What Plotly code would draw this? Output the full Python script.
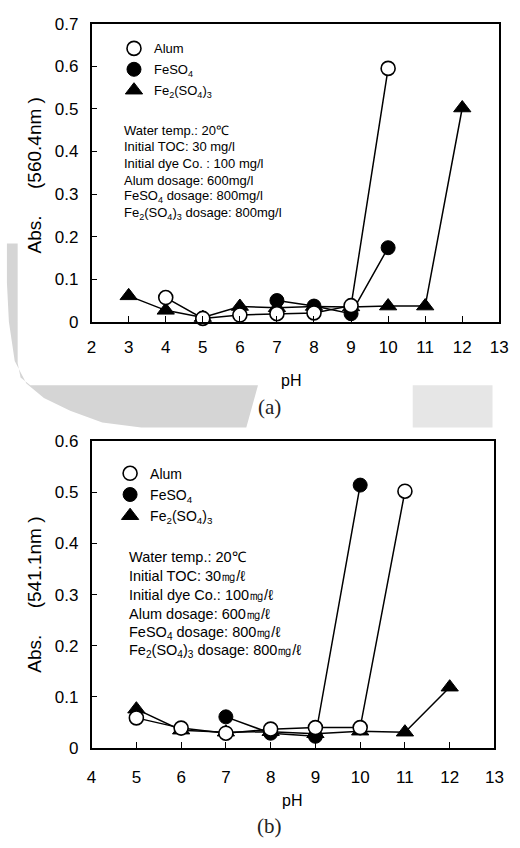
import plotly.graph_objects as go

# ---- (a) absorbance at 560.4 nm vs pH ----
alum_a_ph = [4, 5, 6, 7, 8, 9, 10]
alum_a_abs = [0.057, 0.008, 0.016, 0.019, 0.021, 0.038, 0.595]
feso4_a_ph = [7, 8, 9, 10]
feso4_a_abs = [0.050, 0.037, 0.019, 0.174]
fe2_a_ph = [3, 4, 5, 6, 7, 8, 9, 10, 11, 12]
fe2_a_abs = [0.061, 0.027, 0.010, 0.036, 0.033, 0.036, 0.035, 0.037, 0.037, 0.502]

# ---- (b) absorbance at 541.1 nm vs pH ----
alum_b_ph = [5, 6, 7, 8, 9, 10, 11]
alum_b_abs = [0.059, 0.039, 0.029, 0.037, 0.040, 0.040, 0.502]
feso4_b_ph = [7, 8, 9, 10]
feso4_b_abs = [0.061, 0.029, 0.023, 0.514]
fe2_b_ph = [5, 6, 7, 8, 9, 10, 11, 12]
fe2_b_abs = [0.076, 0.035, 0.031, 0.032, 0.028, 0.033, 0.031, 0.119]

series_names = ["Alum", "FeSO<sub>4</sub>", "Fe<sub>2</sub>(SO<sub>4</sub>)<sub>3</sub>"]

notes_a = [
    "Water temp.: 20\u2103",
    "Initial TOC: 30 mg/l",
    "Initial dye Co. : 100 mg/l",
    "Alum dosage: 600mg/l",
    "FeSO<sub>4</sub> dosage: 800mg/l",
    "Fe<sub>2</sub>(SO<sub>4</sub>)<sub>3</sub> dosage: 800mg/l",
]
notes_b = [
    "Water temp.: 20\u2103",
    "Initial TOC: 30\u338e/\u2113",
    "Initial dye Co.: 100\u338e/\u2113",
    "Alum dosage: 600\u338e/\u2113",
    "FeSO<sub>4</sub> dosage: 800\u338e/\u2113",
    "Fe<sub>2</sub>(SO<sub>4</sub>)<sub>3</sub> dosage: 800\u338e/\u2113",
]

W, H = 520, 848
FONT = "Arial, Liberation Sans, sans-serif"
SERIF = "Times New Roman, Liberation Serif, serif"


def px(x):
    return x / W


def py(y):
    return 1 - y / H


styles = [
    dict(symbol="circle", size=14, color="white", line=dict(color="black", width=1.6)),
    dict(symbol="circle", size=14, color="black", line=dict(color="black", width=1)),
    dict(symbol="triangle-up", size=15, color="black", line=dict(color="black", width=1)),
]

fig = go.Figure()


def add_panel(xa, ya, leg, data):
    # draw ferric first, then ferrous, alum on top
    for idx in (2, 1, 0):
        xs, ys = data[idx]
        fig.add_trace(go.Scatter(
            x=xs, y=ys, mode="lines+markers", xaxis=xa, yaxis=ya,
            line=dict(color="black", width=1.5), marker=styles[idx],
            showlegend=False, cliponaxis=False, hoverinfo="x+y",
        ))
    for idx in (0, 1, 2):
        fig.add_trace(go.Scatter(
            x=[None], y=[None], mode="markers", xaxis=xa, yaxis=ya,
            marker=styles[idx], name=series_names[idx], legend=leg,
            legendgroup=f"{leg}{idx}",
        ))


add_panel("x", "y", "legend", [
    (alum_a_ph, alum_a_abs), (feso4_a_ph, feso4_a_abs), (fe2_a_ph, fe2_a_abs)])
add_panel("x2", "y2", "legend2", [
    (alum_b_ph, alum_b_abs), (feso4_b_ph, feso4_b_abs), (fe2_b_ph, fe2_b_abs)])

axis_common = dict(
    showline=True, mirror=True, linecolor="black", linewidth=1.5,
    ticks="inside", ticklen=6, tickwidth=1, tickcolor="black",
    showgrid=False, zeroline=False,
    tickfont=dict(family=FONT, size=17, color="black"),
)

fig.update_layout(
    width=W, height=H, autosize=False,
    margin=dict(l=0, r=0, t=0, b=0),
    paper_bgcolor="white", plot_bgcolor="white",
    xaxis=dict(domain=[px(89), px(508)], anchor="y", range=[2, 13], dtick=1,
               ticklabelstandoff=9, **axis_common),
    yaxis=dict(domain=[py(320), py(15)], anchor="x", range=[0, 0.7], dtick=0.1,
               ticklabelstandoff=8, **axis_common),
    xaxis2=dict(domain=[px(89), px(503)], anchor="y2", range=[4, 13], dtick=1,
                ticklabelstandoff=13, **axis_common),
    yaxis2=dict(domain=[py(756), py(442)], anchor="x2", range=[0, 0.6], dtick=0.1,
                ticklabelstandoff=8, **axis_common),
    legend=dict(x=px(112), y=py(25), xanchor="left", yanchor="top",
                bgcolor="rgba(0,0,0,0)", tracegroupgap=1,
                font=dict(family=FONT, size=13, color="black")),
    legend2=dict(x=px(108), y=py(459), xanchor="left", yanchor="top",
                 bgcolor="rgba(0,0,0,0)", tracegroupgap=0,
                 font=dict(family=FONT, size=14, color="black")),
)

ann = []
for i, t in enumerate(notes_a):
    ann.append(dict(x=px(120), y=py(124 + 17 * i), text=t, xanchor="left", yanchor="middle",
                    font=dict(family=FONT, size=13, color="black")))
for i, t in enumerate(notes_b):
    ann.append(dict(x=px(125), y=py(561 + 19.2 * i), text=t, xanchor="left", yanchor="middle",
                    font=dict(family=FONT, size=14.5, color="black")))

nb = "\u00a0"
centered = [
    dict(x=px(30), y=py(170), text=f"Abs.{nb*5}(560.4nm{nb})", textangle=-90,
         font=dict(family=FONT, size=19, color="black")),
    dict(x=px(30), y=py(599), text=f"Abs.{nb*5}(541.1nm{nb})", textangle=-90,
         font=dict(family=FONT, size=19, color="black")),
    dict(x=px(294), y=py(380), text="pH", font=dict(family=FONT, size=16, color="black")),
    dict(x=px(295), y=py(810), text="pH", font=dict(family=FONT, size=16, color="black")),
    dict(x=px(272), y=py(407), text="(a)", font=dict(family=SERIF, size=21, color="#222")),
    dict(x=px(272), y=py(836), text="(b)", font=dict(family=SERIF, size=21, color="#222")),
]
for a in centered:
    a.update(xanchor="center", yanchor="middle")
ann += centered
for a in ann:
    a.update(xref="paper", yref="paper", showarrow=False)
fig.update_layout(annotations=ann)


def path(points):
    s = "M " + " L ".join(f"{px(x):.4f},{py(y):.4f}" for x, y in points) + " Z"
    return s


# pale grey backdrop band between the two panels
band = [(2, 240), (13, 240), (13, 362), (16, 377), (26, 385), (260, 385), (248, 428),
        (140, 428), (100, 423), (67, 411), (40, 398), (22, 383), (10, 360), (4, 320), (2, 280)]
fig.update_layout(shapes=[
    dict(type="path", path=path(band), xref="paper", yref="paper",
         fillcolor="#d5d5d5", line=dict(width=0), layer="below"),
    dict(type="rect", x0=px(419), x1=px(501), y0=py(428), y1=py(385), xref="paper",
         yref="paper", fillcolor="#e6e6e6", line=dict(width=0), layer="below"),
])

fig.write_html("out.html")
